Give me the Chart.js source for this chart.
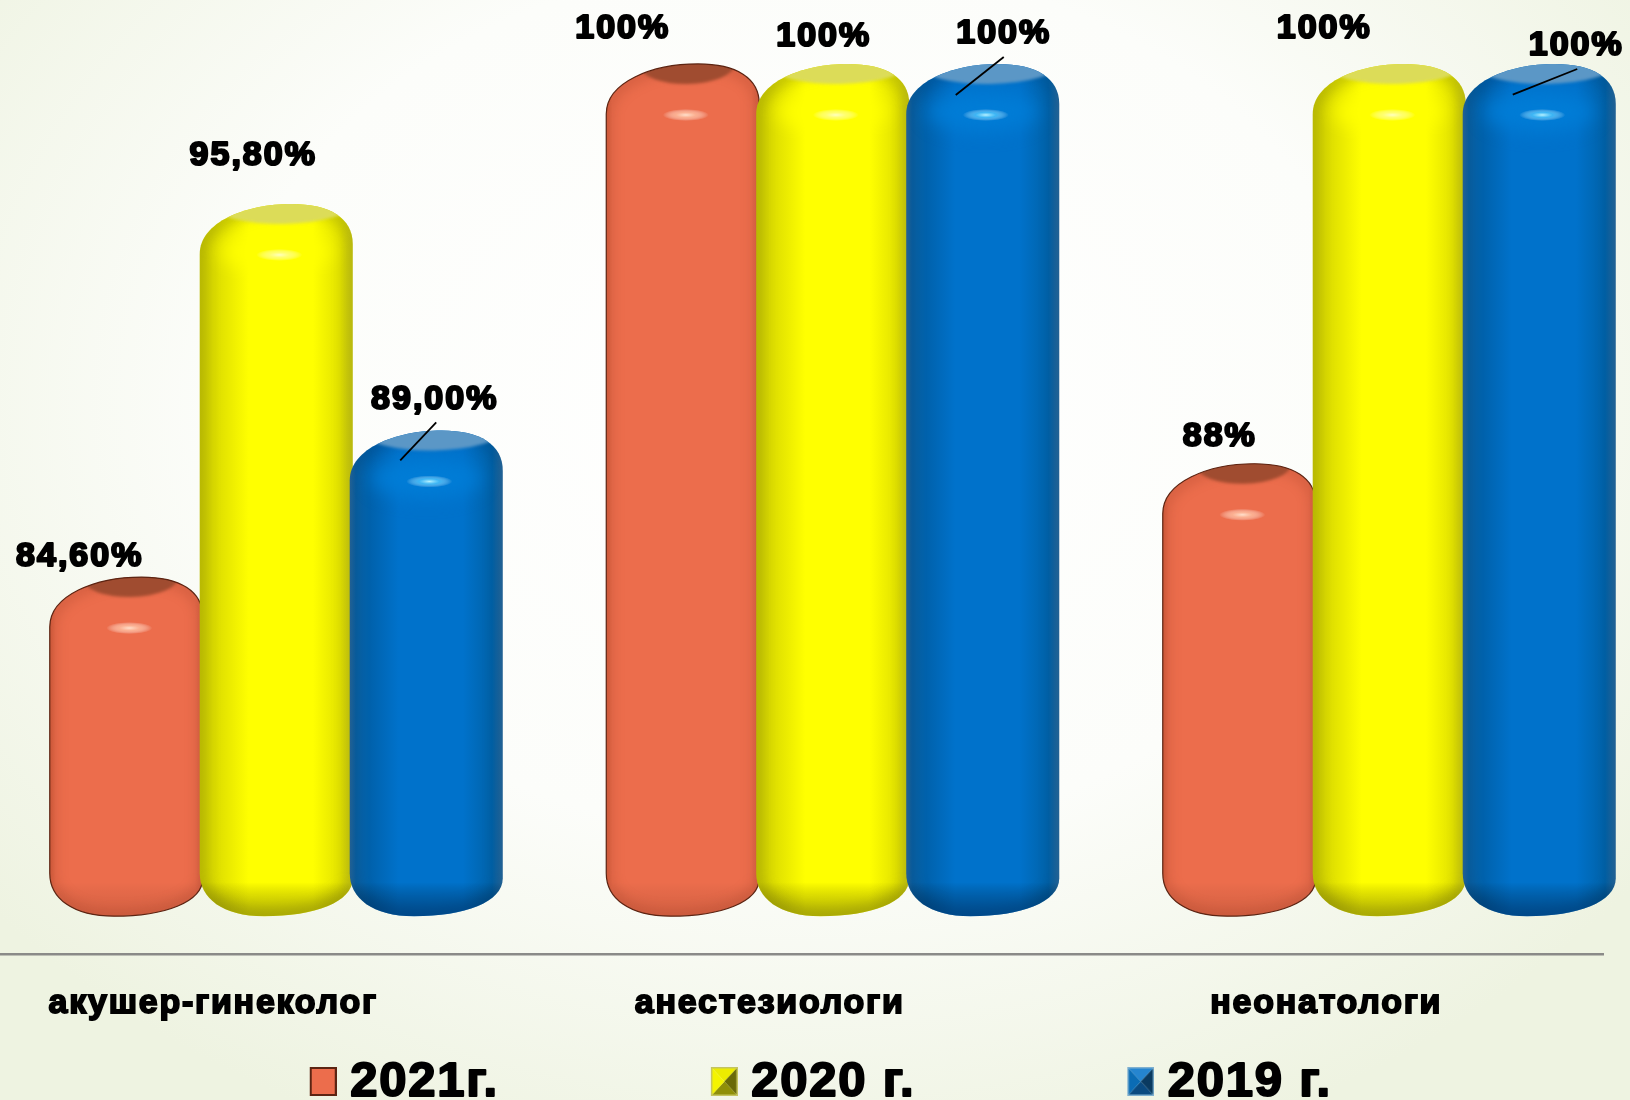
<!DOCTYPE html>
<html><head><meta charset="utf-8">
<script src="https://cdn.jsdelivr.net/npm/chart.js@4/dist/chart.umd.min.js"></script>
<style>
html,body{margin:0;padding:0;width:1630px;height:1100px;overflow:hidden;
background:radial-gradient(ellipse 1050px 800px at 800px 400px,#ffffff 0%,#fcfdfa 55%,#eef3e1 100%);}
#wrap{position:absolute;left:0;top:0;width:1630px;height:1100px;overflow:hidden}
canvas{position:absolute;left:-2px;top:0}
</style></head><body>
<div id="wrap"><canvas id="c" width="1700" height="1117"></canvas></div>
<script>
// ---- data ----
const categories = ['акушер-гинеколог', 'анестезиологи', 'неонатологи'];
const years = ['2021г.', '2020 г.', '2019 г.'];
const values2021 = [84.6, 100, 88];
const values2020 = [95.8, 100, 100];
const values2019 = [89, 100, 100];
const labels2021 = ['84,60%', '100%', '88%'];
const labels2020 = ['95,80%', '100%', '100%'];
const labels2019 = ['89,00%', '100%', '100%'];

// ---- styling (not data) ----
const labelOffsets = [
  [[-46.5,-20],[-60,-35],[-19.5,-27.5]],
  [[-23,-48],[-9,-27],[-65,-35]],
  [[8.5,-31],[21,-30],[37,-18]]
];
const leaderLines = [
  [[10,-8],[-26,30]],
  [[21,-7],[-27,31]],
  [[38,5],[-26.5,30.6]]
];
const looks = [
  {base:[[0,'#d9603f'],[.04,'#ec6d4c'],[.95,'#ec6d4c'],[1,'#d96245']],inset:'rgba(120,40,20,.35)',bottom:'rgba(110,40,20,.14)',cap:'#a04c30',capX:.53,capRx:.31,hi:'#ffe0cc',hiMid:'rgba(255,190,160,.8)',band:'rgba(255,130,90,.0)',outline:'#5c2412',soft:.6},
  {base:[[0,'#cfcf00'],[.1,'#dcdc00'],[.32,'#ffff00'],[.74,'#ffff00'],[.92,'#e2e200'],[1,'#cfcf12']],inset:'rgba(120,120,10,.4)',bottom:'rgba(100,100,10,.42)',cap:'#dcdc58',capX:.55,capRx:.45,hi:'#ffffc0',hiMid:'rgba(255,255,150,.7)',band:'rgba(255,255,0,.9)',outline:null,soft:1},
  {base:[[0,'#2c6d9f'],[.04,'#0a62a4'],[.14,'#0062ad'],[.32,'#0072cb'],[.74,'#0072cb'],[.93,'#0062a8'],[1,'#2c6e9f']],inset:'rgba(0,50,100,.3)',bottom:'rgba(0,45,95,.5)',cap:'#5b97c6',capX:.55,capRx:.45,hi:'#b8f2ff',hiMid:'rgba(80,200,255,.75)',band:'rgba(0,125,215,.9)',outline:null,soft:1}
];

function capsule(ctx,L,T,w,B){
  const R=L+w;
  ctx.beginPath();
  ctx.moveTo(L,T+50);
  ctx.bezierCurveTo(L,T+18,L+.3*w,T,L+.6*w,T);
  ctx.bezierCurveTo(L+.85*w,T,R,T+14,R,T+40);
  ctx.lineTo(R,B-38);
  ctx.bezierCurveTo(R,B-14,L+.75*w,B,L+.42*w,B);
  ctx.bezierCurveTo(L+.15*w,B,L,B-18,L,B-43);
  ctx.closePath();
}
function drawBar(ctx,el,look){
  const {x,y,base,width}=el.getProps(['x','y','base','width'],true);
  const L=x-width/2,T=y,B=base,w=width;
  ctx.save();
  const g=ctx.createLinearGradient(L,0,L+w,0);
  look.base.forEach(s=>g.addColorStop(s[0],s[1]));
  capsule(ctx,L,T,w,B);
  ctx.fillStyle=g;ctx.fill();
  ctx.save();
  capsule(ctx,L,T,w,B);ctx.clip();
  ctx.save();
  ctx.filter='blur(7px)';
  capsule(ctx,L,T,w,B);
  ctx.strokeStyle=look.inset;ctx.lineWidth=12*look.soft;ctx.stroke();
  ctx.restore();
  const bs=ctx.createLinearGradient(0,B-34,0,B);
  bs.addColorStop(0,'rgba(0,0,0,0)');bs.addColorStop(1,look.bottom);
  ctx.fillStyle=bs;ctx.fillRect(L,B-34,w,34);
  ctx.save();
  ctx.filter='blur(9px)';
  ctx.fillStyle=look.band;
  ctx.beginPath();ctx.ellipse(L+.5*w,T+48,.36*w,20,0,0,Math.PI*2);ctx.fill();
  ctx.restore();
  ctx.save();
  ctx.filter='blur(1.5px)';
  ctx.fillStyle=look.cap;
  ctx.beginPath();ctx.ellipse(L+look.capX*w,T+1,look.capRx*w,19,-0.02,0,Math.PI*2);ctx.fill();
  ctx.restore();
  ctx.save();
  ctx.translate(L+.52*w,T+51);ctx.scale(1,.26);
  const h=ctx.createRadialGradient(0,0,0,0,0,23);
  h.addColorStop(0,look.hi);h.addColorStop(.45,look.hiMid);h.addColorStop(1,'rgba(255,255,255,0)');
  ctx.fillStyle=h;ctx.beginPath();ctx.arc(0,0,23,0,Math.PI*2);ctx.fill();
  ctx.restore();
  ctx.restore();
  if(look.outline){
    capsule(ctx,L,T,w,B);
    ctx.strokeStyle=look.outline;ctx.lineWidth=1.2;ctx.stroke();
  }
  ctx.restore();
}
function legendIcon(i){
  const c=document.createElement('canvas');
  c.width=246;c.height=35;
  const x=c.getContext('2d');
  const a=219,b=2,s=27;
  const tri=(p,col)=>{x.fillStyle=col;x.beginPath();p.forEach((q,j)=>j?x.lineTo(q[0],q[1]):x.moveTo(q[0],q[1]));x.closePath();x.fill();};
  const m=[a+s/2,b+14.5],tl=[a,b],tr=[a+s,b],br=[a+s,b+29],bl=[a,b+29];
  if(i===0){
    x.fillStyle='#ec6d4c';x.fillRect(a,b,s,29);
    x.strokeStyle='#5c2412';x.lineWidth=2;x.strokeRect(a+1,b+1,s-2,27);
  }else if(i===1){
    tri([tl,tr,m],'#ecec00');tri([tr,br,m],'#6a6a08');tri([br,bl,m],'#8f8f08');tri([bl,tl,m],'#f4f400');
    x.strokeStyle='#c4c460';x.lineWidth=1.5;x.strokeRect(a+.75,b+.75,s-1.5,27.5);
  }else{
    tri([tl,tr,m],'#2585d0');tri([tr,br,m],'#0a3a60');tri([br,bl,m],'#0a4a80');tri([bl,tl,m],'#0a6cb5');
    x.strokeStyle='#7fb0d0';x.lineWidth=1.5;x.strokeRect(a+.75,b+.75,s-1.5,27.5);
  }
  return c;
}
const LEGEND_SHIFT=-116;
const legendFont={family:'"Liberation Sans"',size:49,weight:'bold'};
const valuePlugin={
  id:'capsules',
  beforeInit(chart){
    const ctx=chart.ctx;
    const fill=ctx.fillText.bind(ctx);
    ctx.fillText=(t,x,y,m)=>{
      fill(t,x,y,m);
      if(ctx.font.indexOf('49px')>=0){
        ctx.save();ctx.strokeStyle='#000';ctx.lineWidth=2;ctx.lineJoin='round';ctx.strokeText(t,x,y);ctx.restore();
      }
    };
  },
  beforeUpdate(chart){chart.ctx.letterSpacing='1.75px';},
  afterLayout(chart){
    const lg=chart.legend;lg.left+=LEGEND_SHIFT;lg.right+=LEGEND_SHIFT;
  },
  beforeDraw(chart){chart.ctx.letterSpacing='1.75px';},
  beforeDatasetsDraw(chart){
    const ctx=chart.ctx;
    [0,1,2].forEach(d=>chart.getDatasetMeta(d).data.forEach(el=>drawBar(ctx,el,looks[d])));
    return false;
  },
  afterDraw(chart){
    const ctx=chart.ctx;
    const yb=chart.scales.x.top+1;
    ctx.save();
    ctx.strokeStyle='#8a8a88';ctx.lineWidth=2.5;
    ctx.beginPath();ctx.moveTo(0,yb);ctx.lineTo(1606,yb);ctx.stroke();
    const blue=chart.getDatasetMeta(2).data;
    ctx.strokeStyle='#000';ctx.lineWidth=1.8;
    leaderLines.forEach((ln,i)=>{
      const e=blue[i];
      ctx.beginPath();ctx.moveTo(e.x+ln[0][0],e.y+ln[0][1]);ctx.lineTo(e.x+ln[1][0],e.y+ln[1][1]);ctx.stroke();
    });
    ctx.font='bold 34px "Liberation Sans"';
    ctx.letterSpacing='2px';
    ctx.textAlign='center';ctx.textBaseline='middle';
    ctx.fillStyle='#000';ctx.strokeStyle='#000';ctx.lineWidth=2.2;ctx.lineJoin='round';
    [labels2021,labels2020,labels2019].forEach((arr,d)=>{
      const m=chart.getDatasetMeta(d).data;
      arr.forEach((t,i)=>{
        const px=m[i].x+labelOffsets[d][i][0],py=m[i].y+labelOffsets[d][i][1];
        ctx.fillText(t,px,py);ctx.strokeText(t,px,py);
      });
    });
    ctx.restore();
  }
};
new Chart(document.getElementById('c'),{
  type:'bar',
  data:{labels:categories,datasets:[
    {label:years[0],data:values2021,backgroundColor:'#ec6d4c'},
    {label:years[1],data:values2020,backgroundColor:'#ffff00'},
    {label:years[2],data:values2019,backgroundColor:'#0072cb'}
  ]},
  options:{
    responsive:false,animation:false,
    layout:{padding:{left:0,right:30.5,top:0,bottom:0}},
    datasets:{bar:{categoryPercentage:.8086,barPercentage:1.02,base:74.42}},
    scales:{
      x:{grid:{display:false,drawTicks:false},border:{display:false},
         ticks:{labelOffset:-63,padding:30,color:'#000',maxRotation:0,autoSkip:false,
           font:{family:'"Liberation Sans"',size:34,weight:'bold'},textStrokeColor:'#000',textStrokeWidth:1.8}},
      y:{display:false,min:73.31,max:101.92}
    },
    plugins:{
      tooltip:{enabled:false},
      legend:{position:'bottom',align:'center',
        labels:{usePointStyle:true,pointStyleWidth:224,padding:4,color:'#000',font:legendFont,
          generateLabels:()=>years.map((t,i)=>({text:t,pointStyle:legendIcon(i),fillStyle:'#000',strokeStyle:'#000',lineWidth:0,hidden:false,datasetIndex:i,fontColor:'#000'}))}
      }
    }
  },
  plugins:[valuePlugin]
});
</script>
</body></html>
